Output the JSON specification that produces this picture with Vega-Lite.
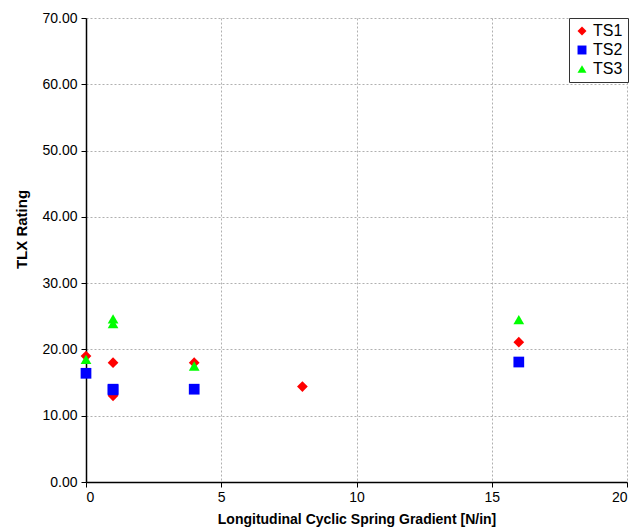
{
  "$schema": "https://vega.github.io/schema/vega-lite/v6.json",
  "autosize": "none",
  "width": 541,
  "height": 464,
  "padding": {"left": 86, "top": 18, "right": 13, "bottom": 50},
  "background": "white",
  "config": {
    "view": {"stroke": null},
    "font": "Liberation Sans"
  },
  "data": {
    "values": [
      {"x": 0, "y": 19.0, "series": "TS1"},
      {"x": 1, "y": 18.0, "series": "TS1"},
      {"x": 1, "y": 13.0, "series": "TS1"},
      {"x": 4, "y": 18.0, "series": "TS1"},
      {"x": 8, "y": 14.4, "series": "TS1"},
      {"x": 16, "y": 21.1, "series": "TS1"},
      {"x": 0, "y": 16.4, "series": "TS2"},
      {"x": 1, "y": 14.0, "series": "TS2"},
      {"x": 1, "y": 13.9, "series": "TS2"},
      {"x": 4, "y": 14.0, "series": "TS2"},
      {"x": 16, "y": 18.1, "series": "TS2"},
      {"x": 0, "y": 18.5, "series": "TS3"},
      {"x": 1, "y": 24.6, "series": "TS3"},
      {"x": 1, "y": 23.9, "series": "TS3"},
      {"x": 4, "y": 17.5, "series": "TS3"},
      {"x": 16, "y": 24.5, "series": "TS3"}
    ]
  },
  "mark": {"type": "point", "filled": true, "opacity": 1, "size": 115},
  "encoding": {
    "x": {
      "field": "x", "type": "quantitative",
      "scale": {"domain": [0, 20], "nice": false, "zero": true},
      "axis": {
        "values": [0, 5, 10, 15, 20],
        "title": "Longitudinal Cyclic Spring Gradient [N/in]",
        "titleFont": "Liberation Sans", "titleFontWeight": "bold", "titleFontSize": 14, "titleColor": "#000",
        "titlePadding": 8,
        "labelFontSize": 14, "labelColor": "#000", "labelPadding": 3,
        "domainColor": "#000", "domainWidth": 1.5,
        "tickColor": "#000", "tickSize": 5,
        "gridColor": "#b0b0b0", "gridDash": [2, 2], "gridWidth": 1
      }
    },
    "y": {
      "field": "y", "type": "quantitative",
      "scale": {"domain": [0, 70], "nice": false},
      "axis": {
        "values": [0, 10, 20, 30, 40, 50, 60, 70],
        "format": ".2f",
        "title": "TLX Rating",
        "titleFont": "Liberation Sans", "titleFontWeight": "bold", "titleFontSize": 15, "titleColor": "#000",
        "titlePadding": 12, "titleY": 211,
        "labelFontSize": 14, "labelColor": "#000", "labelPadding": 4,
        "domainColor": "#000", "domainWidth": 1.5,
        "tickColor": "#000", "tickSize": 5,
        "gridColor": "#b0b0b0", "gridDash": [2, 2], "gridWidth": 1
      }
    },
    "color": {
      "field": "series", "type": "nominal",
      "scale": {"domain": ["TS1", "TS2", "TS3"], "range": ["#ff0000", "#0000ff", "#00ff00"]},
      "legend": {
        "title": null, "orient": "none", "legendX": 483, "legendY": 0,
        "strokeColor": "#333", "fillColor": "#fff", "padding": 5,
        "labelFontSize": 16, "labelColor": "#000", "symbolSize": 80, "rowPadding": 3, "labelOffset": 3
      }
    },
    "shape": {
      "field": "series", "type": "nominal",
      "scale": {"domain": ["TS1", "TS2", "TS3"], "range": ["diamond", "square", "triangle-up"]}
    }
  }
}
